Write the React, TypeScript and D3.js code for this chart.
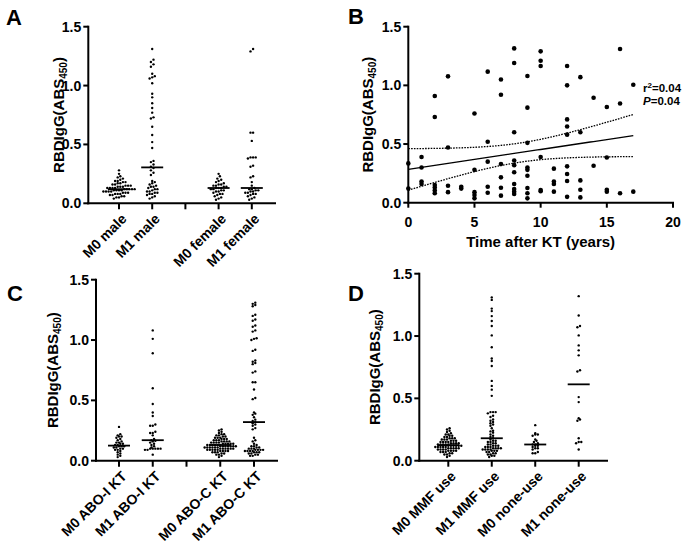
import React from 'react';
import * as d3 from 'd3';

const FONT = '"Liberation Sans", Arial, Helvetica, sans-serif';

// ---------- Panel A data ----------
const catsA = ['M0 male', 'M1 male', '', 'M0 female', 'M1 female'];
const m0Male = [0.28, 0.25, 0.23, 0.22, 0.21, 0.2, 0.19, 0.19, 0.18, 0.18, 0.17, 0.17, 0.16, 0.16, 0.15, 0.15, 0.15, 0.14, 0.14, 0.14, 0.13, 0.13, 0.13, 0.13, 0.12, 0.12, 0.12, 0.12, 0.12, 0.11, 0.11, 0.11, 0.11, 0.1, 0.1, 0.1, 0.1, 0.09, 0.09, 0.09, 0.08, 0.08, 0.08, 0.07, 0.07, 0.06, 0.06, 0.05, 0.05, 0.04];
const m1Male = [1.31, 1.22, 1.2, 1.18, 1.16, 1.1, 1.08, 1.07, 1.06, 1.02, 0.93, 0.9, 0.85, 0.81, 0.77, 0.73, 0.72, 0.65, 0.58, 0.52, 0.47, 0.36, 0.35, 0.33, 0.31, 0.3, 0.28, 0.26, 0.24, 0.19, 0.18, 0.17, 0.16, 0.15, 0.14, 0.14, 0.13, 0.12, 0.12, 0.11, 0.1, 0.1, 0.09, 0.09, 0.08, 0.08, 0.07, 0.06, 0.05, 0.04];
const m0Female = [0.25, 0.23, 0.21, 0.2, 0.19, 0.18, 0.17, 0.16, 0.16, 0.15, 0.15, 0.14, 0.14, 0.13, 0.13, 0.13, 0.12, 0.12, 0.11, 0.11, 0.1, 0.1, 0.09, 0.08, 0.08, 0.07, 0.06, 0.05, 0.04, 0.03];
const m1Female = [1.31, 1.29, 0.6, 0.6, 0.53, 0.39, 0.39, 0.39, 0.38, 0.32, 0.31, 0.23, 0.22, 0.18, 0.15, 0.13, 0.12, 0.12, 0.11, 0.11, 0.1, 0.1, 0.09, 0.09, 0.08, 0.08, 0.07, 0.06, 0.05, 0.04, 0.03];

// ---------- Panel B data (years after KT, RBD IgG) ----------
const timeYears = [
  0, 0,
  1, 1, 1, 1,
  2, 2, 2, 2, 2, 2,
  3, 3, 3, 3,
  4, 4,
  5, 5, 5, 5, 5,
  6, 6, 6, 6, 6,
  7, 7, 7, 7, 7, 7,
  8, 8, 8, 8, 8, 8, 8, 8, 8, 8,
  9, 9, 9, 9, 9, 9, 9, 9, 9,
  10, 10, 10, 10, 10, 10,
  11, 11, 11, 11,
  12, 12, 12, 12, 12, 12, 12, 12, 12,
  13, 13, 13, 13, 13,
  14, 14,
  15, 15, 15, 15,
  16, 16, 16,
  17, 17,
];
const rbdValues = [
  0.335, 0.12,
  0.39, 0.3, 0.18, 0.16,
  0.91, 0.73, 0.15, 0.13, 0.105, 0.08,
  1.077, 0.47, 0.145, 0.09,
  0.136, 0.12,
  0.76, 0.28, 0.09, 0.065, 0.037,
  1.117, 0.52, 0.35, 0.136, 0.085,
  1.05, 0.92, 0.33, 0.216, 0.128, 0.06,
  1.315, 1.19, 0.6, 0.36, 0.32, 0.26, 0.16, 0.116, 0.094, 0.074,
  1.08, 0.81, 0.51, 0.3, 0.28, 0.23, 0.125, 0.08, 0.037,
  1.29, 1.21, 1.165, 0.39, 0.108, 0.097,
  0.29, 0.18, 0.16, 0.094,
  1.165, 1.0, 0.71, 0.65, 0.58, 0.31, 0.244, 0.185, 0.05,
  1.07, 0.6, 0.19, 0.11, 0.045,
  0.895, 0.315,
  0.815, 0.385, 0.11, 0.094,
  1.31, 0.845, 0.08,
  1.005, 0.094,
];
const xTicksB = [0, 5, 10, 15, 20];
const statR2 = '0.04';
const statP = '0.04';

// ---------- Panel C data ----------
const catsC = ['M0 ABO-I KT', 'M1 ABO-I KT', '', 'M0 ABO-C KT', 'M1 ABO-C KT'];
const m0AboI = [0.28, 0.22, 0.21, 0.2, 0.2, 0.19, 0.18, 0.17, 0.16, 0.15, 0.15, 0.14, 0.14, 0.13, 0.13, 0.12, 0.12, 0.12, 0.11, 0.11, 0.1, 0.1, 0.09, 0.09, 0.08, 0.07, 0.06, 0.05, 0.04, 0.03];
const m1AboI = [1.08, 1.01, 0.89, 0.6, 0.47, 0.4, 0.37, 0.3, 0.29, 0.29, 0.24, 0.23, 0.23, 0.21, 0.18, 0.17, 0.165, 0.16, 0.15, 0.14, 0.13, 0.12, 0.11, 0.1, 0.1, 0.1, 0.1, 0.1, 0.09, 0.09, 0.05];
const m0AboC = [0.26, 0.25, 0.24, 0.23, 0.22, 0.22, 0.21, 0.21, 0.2, 0.2, 0.19, 0.19, 0.19, 0.18, 0.18, 0.18, 0.17, 0.17, 0.17, 0.16, 0.16, 0.16, 0.16, 0.15, 0.15, 0.15, 0.15, 0.14, 0.14, 0.14, 0.14, 0.14, 0.13, 0.13, 0.13, 0.13, 0.13, 0.13, 0.12, 0.12, 0.12, 0.12, 0.12, 0.12, 0.12, 0.11, 0.11, 0.11, 0.11, 0.11, 0.11, 0.1, 0.1, 0.1, 0.1, 0.1, 0.1, 0.09, 0.09, 0.09, 0.09, 0.09, 0.08, 0.08, 0.08, 0.08, 0.07, 0.07, 0.07, 0.06, 0.06, 0.05, 0.05, 0.04, 0.03];
const m1AboC = [1.31, 1.3, 1.29, 1.28, 1.21, 1.2, 1.17, 1.16, 1.12, 1.11, 1.08, 1.07, 1.015, 1.01, 1.0, 0.92, 0.91, 0.83, 0.82, 0.81, 0.8, 0.74, 0.73, 0.65, 0.65, 0.59, 0.52, 0.51, 0.4, 0.39, 0.38, 0.36, 0.34, 0.33, 0.32, 0.31, 0.3, 0.29, 0.27, 0.26, 0.19, 0.17, 0.16, 0.14, 0.13, 0.12, 0.12, 0.11, 0.11, 0.1, 0.1, 0.1, 0.09, 0.09, 0.09, 0.09, 0.08, 0.08, 0.08, 0.08, 0.07, 0.07, 0.07, 0.06, 0.06, 0.05, 0.05, 0.04, 0.04];

// ---------- Panel D data ----------
const catsD = ['M0 MMF use', 'M1  MMF use', 'M0 none-use', 'M1 none-use'];
const m0Mmf = [0.26, 0.25, 0.24, 0.23, 0.22, 0.21, 0.21, 0.2, 0.2, 0.19, 0.19, 0.18, 0.18, 0.18, 0.17, 0.17, 0.17, 0.16, 0.16, 0.16, 0.15, 0.15, 0.15, 0.15, 0.14, 0.14, 0.14, 0.14, 0.13, 0.13, 0.13, 0.13, 0.13, 0.12, 0.12, 0.12, 0.12, 0.12, 0.12, 0.11, 0.11, 0.11, 0.11, 0.11, 0.1, 0.1, 0.1, 0.1, 0.1, 0.09, 0.09, 0.09, 0.09, 0.08, 0.08, 0.08, 0.08, 0.07, 0.07, 0.07, 0.06, 0.06, 0.05, 0.05, 0.04, 0.03];
const m1Mmf = [1.31, 1.29, 1.22, 1.2, 1.16, 1.12, 1.08, 1.005, 0.91, 0.82, 0.8, 0.76, 0.64, 0.6, 0.57, 0.52, 0.39, 0.39, 0.39, 0.38, 0.36, 0.35, 0.33, 0.32, 0.31, 0.3, 0.29, 0.28, 0.26, 0.24, 0.235, 0.225, 0.21, 0.2, 0.19, 0.18, 0.17, 0.16, 0.16, 0.15, 0.15, 0.14, 0.14, 0.13, 0.13, 0.12, 0.12, 0.12, 0.11, 0.11, 0.11, 0.1, 0.1, 0.1, 0.1, 0.09, 0.09, 0.09, 0.09, 0.08, 0.08, 0.08, 0.07, 0.07, 0.06, 0.06, 0.05, 0.05, 0.04, 0.04, 0.03];
const m0None = [0.285, 0.22, 0.21, 0.21, 0.2, 0.17, 0.16, 0.15, 0.14, 0.13, 0.13, 0.12, 0.12, 0.11, 0.1, 0.1, 0.09, 0.07, 0.06, 0.06];
const m1None = [1.32, 1.165, 1.08, 1.07, 1.005, 0.925, 0.885, 0.845, 0.725, 0.715, 0.51, 0.47, 0.34, 0.33, 0.32, 0.18, 0.15, 0.15, 0.14, 0.09];

const yTicks = [0, 0.5, 1.0, 1.5];

// ---------- helpers ----------
function swarm(values: number[], cx: number, y: (v: number) => number, rowH: number, dx: number) {
  const sorted = [...values].sort((a, b) => a - b);
  const out: { x: number; y: number }[] = [];
  let group: number[] = [];
  let startY = 0;
  const flush = () => {
    const n = group.length;
    group.forEach((v, i) => out.push({ x: cx + (i - (n - 1) / 2) * dx, y: y(v) }));
    group = [];
  };
  for (const v of sorted) {
    const py = y(v);
    if (group.length && Math.abs(startY - py) > rowH) flush();
    if (!group.length) startY = py;
    group.push(v);
  }
  flush();
  return out;
}

const bold = { fontFamily: FONT, fontWeight: 700 as const };

function YTitle({ cx, cy }: { cx: number; cy: number }) {
  return (
    <text transform={`translate(${cx},${cy}) rotate(-90)`} textAnchor="middle" dy="0.36em" fontSize={15} {...bold}>
      RBDIgG(ABS<tspan fontSize={10} dy={3}>450</tspan><tspan dy={-3}>)</tspan>
    </text>
  );
}

function YAxis({ x, y }: { x: number; y: d3.ScaleLinear<number, number> }) {
  const r = y.range();
  return (
    <g>
      <line x1={x} x2={x} y1={r[0] + 1} y2={r[1] - 1} stroke="#000" strokeWidth={2} />
      {yTicks.map((t) => (
        <g key={t}>
          <line x1={x - 5} x2={x} y1={y(t)} y2={y(t)} stroke="#000" strokeWidth={2} />
          <text x={x - 7} y={y(t)} dy="0.36em" textAnchor="end" fontSize={14} {...bold}>
            {d3.format('.1f')(t)}
          </text>
        </g>
      ))}
    </g>
  );
}

type DotProps = {
  cats: string[];
  series: (number[] | null)[];
  left: number;
  right: number;
  y0: number;
  yTop: number;
  first: number;
  last: number;
  titleX: number;
};

function DotPanel({ cats, series, left, right, y0, yTop, first, last, titleX }: DotProps) {
  const y = d3.scaleLinear().domain([0, 1.5]).range([y0, yTop]);
  const x = d3.scalePoint<number>().domain(cats.map((_, i) => i)).range([first, last]);
  return (
    <g>
      {series.map((vals, i) => {
        if (!vals) return null;
        const cx = x(i)!;
        const pts = swarm(vals, cx, y, 2.4, 2.6);
        const med = d3.median(vals)!;
        return (
          <g key={i}>
            {pts.map((p, j) => (
              <circle key={j} cx={p.x} cy={p.y} r={1.2} fill="#000" />
            ))}
            <line x1={cx - 11} x2={cx + 11} y1={y(med)} y2={y(med)} stroke="#000" strokeWidth={1.8} />
          </g>
        );
      })}
      <YAxis x={left} y={y} />
      <line x1={left - 1} x2={right} y1={y0} y2={y0} stroke="#000" strokeWidth={2} />
      {cats.map((c, i) => (
        <g key={i}>
          <line x1={x(i)} x2={x(i)} y1={y0} y2={y0 + 6} stroke="#000" strokeWidth={2} />
          {c && (
            <text transform={`translate(${x(i)! + 5},${y0 + 13}) rotate(-45)`} textAnchor="end" dy="0.35em" fontSize={14} {...bold}>
              {c}
            </text>
          )}
        </g>
      ))}
      <YTitle cx={titleX} cy={(y0 + yTop) / 2} />
    </g>
  );
}

function ScatterPanel() {
  const left = 408.3, right = 673, y0 = 202.7, yTop = 26.7;
  const x = d3.scaleLinear().domain([0, 20]).range([left, right]);
  const y = d3.scaleLinear().domain([0, 1.5]).range([y0, yTop]);
  const n = timeYears.length;
  const xm = d3.mean(timeYears)!;
  const ym = d3.mean(rbdValues)!;
  let sxx = 0, sxy = 0;
  for (let i = 0; i < n; i++) {
    sxx += (timeYears[i] - xm) ** 2;
    sxy += (timeYears[i] - xm) * (rbdValues[i] - ym);
  }
  const b = sxy / sxx;
  const a = ym - b * xm;
  let sse = 0;
  for (let i = 0; i < n; i++) sse += (rbdValues[i] - a - b * timeYears[i]) ** 2;
  const s = Math.sqrt(sse / (n - 2));
  const tval = 1.987;
  const xmax = d3.max(timeYears)!;
  const xs = d3.range(0, xmax + 0.001, 0.25);
  const half = (xx: number) => tval * s * Math.sqrt(1 / n + (xx - xm) ** 2 / sxx);
  const fit = d3.line<number>().x((d) => x(d)).y((d) => y(a + b * d))(xs)!;
  const up = d3.line<number>().x((d) => x(d)).y((d) => y(a + b * d + half(d)))(xs)!;
  const lo = d3.line<number>().x((d) => x(d)).y((d) => y(a + b * d - half(d)))(xs)!;
  return (
    <g>
      {timeYears.map((t, i) => (
        <circle key={i} cx={x(t)} cy={y(rbdValues[i])} r={2.3} fill="#000" />
      ))}
      <path d={fit} fill="none" stroke="#000" strokeWidth={1.3} />
      <path d={up} fill="none" stroke="#000" strokeWidth={1.3} strokeDasharray="1.6,1.2" />
      <path d={lo} fill="none" stroke="#000" strokeWidth={1.3} strokeDasharray="1.6,1.2" />
      <YAxis x={left} y={y} />
      <line x1={left - 1} x2={right + 1} y1={y0} y2={y0} stroke="#000" strokeWidth={2} />
      {xTicksB.map((t) => (
        <g key={t}>
          <line x1={x(t)} x2={x(t)} y1={y0} y2={y0 + 5} stroke="#000" strokeWidth={2} />
          <text x={x(t)} y={y0 + 19} dy="0.36em" textAnchor="middle" fontSize={14} {...bold}>
            {t}
          </text>
        </g>
      ))}
      <text x={(left + right) / 2} y={y0 + 39} dy="0.36em" textAnchor="middle" fontSize={15} {...bold}>
        Time after KT (years)
      </text>
      <YTitle cx={368} cy={(y0 + yTop) / 2} />
      <text x={643} y={91.5} fontSize={11.5} {...bold}>
        r<tspan fontSize={8} dy={-4}>2</tspan><tspan dy={4}>={statR2}</tspan>
      </text>
      <text x={643} y={105} fontSize={11.5} {...bold}>
        <tspan fontStyle="italic">P</tspan>={statP}
      </text>
    </g>
  );
}

export default function App() {
  return (
    <div style={{ position: 'absolute', left: 0, top: 0 }}>
      <svg width={685} height={548} style={{ display: 'block', background: '#fff' }}>
        <rect width={685} height={548} fill="#fff" />
        <text x={6} y={25} fontSize={22} {...bold}>A</text>
        <text x={348} y={24} fontSize={22} {...bold}>B</text>
        <text x={7} y={301} fontSize={22} {...bold}>C</text>
        <text x={348} y={301} fontSize={22} {...bold}>D</text>
        <DotPanel cats={catsA} series={[m0Male, m1Male, null, m0Female, m1Female]} left={88.3} right={276} y0={203.3} yTop={26.7} first={119} last={251.8} titleX={59} />
        <ScatterPanel />
        <DotPanel cats={catsC} series={[m0AboI, m1AboI, null, m0AboC, m1AboC]} left={96} right={278} y0={460.7} yTop={279.7} first={119} last={254} titleX={53} />
        <DotPanel cats={catsD} series={[m0Mmf, m1Mmf, m0None, m1None]} left={419.3} right={608} y0={460.7} yTop={273.7} first={448.3} last={578.7} titleX={375} />
      </svg>
    </div>
  );
}
